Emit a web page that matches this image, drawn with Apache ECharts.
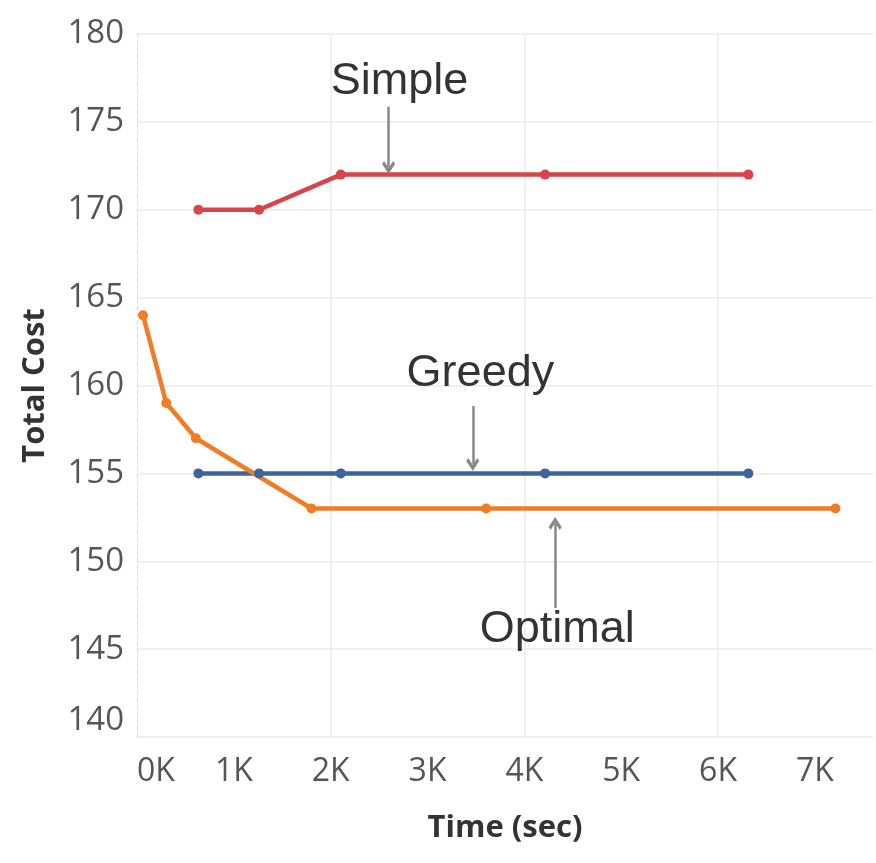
<!DOCTYPE html>
<html>
<head>
<meta charset="utf-8">
<script src="https://cdn.jsdelivr.net/npm/echarts@6/dist/echarts.min.js"></script>
<style>
html,body{margin:0;padding:0;background:#fff;}
#chart{width:876px;height:863px;}
</style>
</head>
<body>
<div id="chart"></div>
<script>
// ---- data ----
const simpleTime = [634, 1260, 2104, 4214, 6313];
const simpleCost = [170, 170, 172, 172, 172];
const greedyTime = [634, 1260, 2104, 4214, 6313];
const greedyCost = [155, 155, 155, 155, 155];
const optimalTime = [62, 302, 608, 1802, 3605, 7212];
const optimalCost = [164, 159, 157, 153, 153, 153];

// annotation anchors (data space): label text, label position, arrow tail, arrow tip
const annoNames = ['Simple', 'Greedy', 'Optimal'];
const annoLabelX = [2711, 3546, 4339];
const annoLabelY = [177.27, 160.65, 146.09];
const arrowX = [2598, 3467, 4318];
const arrowTailY = [175.86, 158.83, 147.34];
const arrowTipY = [172.4, 155.5, 152.15];

const yTicks = [140, 145, 150, 155, 160, 165, 170, 175, 180];

const zip = (xs, ys) => xs.map((x, i) => [x, ys[i]]);

const chart = echarts.init(document.getElementById('chart'), null, {renderer: 'canvas'});

const lineSeries = (name, xs, ys, color) => ({
  name, type: 'line', data: zip(xs, ys), xAxisIndex: 0, yAxisIndex: 0,
  symbol: 'circle', symbolSize: 10, showSymbol: true,
  lineStyle: {color, width: 4.5}, itemStyle: {color},
  z: 5, animation: false
});

const chevron = 'path://M10,0 L20,10 L17,13 L10,6 L3,13 L0,10 Z';

chart.setOption({
  animation: false,
  grid: {left: 137, right: 1, top: 34, bottom: 126, containLabel: false},
  xAxis: [{
    type: 'value', min: 0, max: 7600, interval: 1000,
    axisLine: {show: false}, axisTick: {show: false}, splitLine: {show: false},
    axisLabel: {
      color: '#555', fontFamily: 'Open Sans', fontSize: 32, margin: 19,
      alignMinLabel: 'left',
      formatter: v => (v % 1000 === 0 ? (v / 1000) + 'K' : '')
    },
    name: 'Time (sec)', nameLocation: 'middle', nameGap: 76,
    nameTextStyle: {color: '#333', fontFamily: 'Open Sans', fontWeight: 'bold', fontSize: 31}
  }, {
    type: 'value', min: 0, max: 7600, interval: 2000, position: 'bottom',
    axisLine: {show: false}, axisLabel: {show: false},
    axisTick: {show: false},
    splitLine: {show: true, showMinLine: false, showMaxLine: false, lineStyle: {color: '#ebebeb', width: 1.5}}
  }],
  yAxis: {
    type: 'value', min: yTicks[0], max: yTicks[yTicks.length - 1], interval: 5,
    axisLine: {show: true, lineStyle: {color: '#dcdcdc', type: [4, 3], width: 1}},
    axisTick: {show: false},
    splitLine: {show: true, lineStyle: {color: '#ebebeb', width: 1.5}},
    axisLabel: {
      color: '#555', fontFamily: 'Open Sans', fontSize: 33, margin: 13,
      verticalAlignMinLabel: 'bottom'
    },
    name: 'Total Cost', nameLocation: 'middle', nameGap: 86, nameRotate: 90,
    nameTextStyle: {color: '#333', fontFamily: 'Open Sans', fontWeight: 'bold', fontSize: 31}
  },
  series: [
    lineSeries('Simple', simpleTime, simpleCost, '#d9434a'),
    lineSeries('Greedy', greedyTime, greedyCost, '#3e649d'),
    lineSeries('Optimal', optimalTime, optimalCost, '#f07d26'),
    {
      type: 'lines', coordinateSystem: 'cartesian2d', xAxisIndex: 0, yAxisIndex: 0,
      polyline: false, silent: true,
      symbol: ['none', chevron], symbolSize: [19, 13],
      lineStyle: {color: '#888', width: 2.5, opacity: 1},
      data: arrowX.map((x, i) => ({coords: [[x, arrowTailY[i]], [x, arrowTipY[i]]]})),
      z: 6, animation: false
    },
    {
      type: 'scatter', xAxisIndex: 0, yAxisIndex: 0, symbolSize: 0, silent: true,
      data: annoNames.map((n, i) => ({name: n, value: [annoLabelX[i], annoLabelY[i]]})),
      label: {
        show: true, position: 'inside', formatter: p => p.name,
        color: '#000', textBorderWidth: 0, fontFamily: 'Liberation Sans', fontSize: 45
      },
      z: 7, animation: false
    }
  ]
});
</script>
</body>
</html>
